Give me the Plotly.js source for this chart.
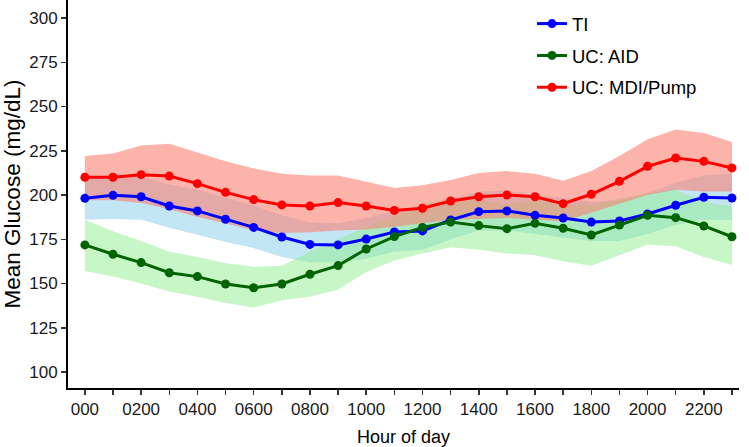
<!DOCTYPE html>
<html>
<head>
<meta charset="utf-8">
<script src="https://cdn.plot.ly/plotly-3.0.1.min.js"></script>
<style>html,body{margin:0;padding:0;background:#fff;}#chart{width:749px;height:447px;}</style>
</head>
<body>
<div id="chart"></div>
<script>
const hours = [0,1,2,3,4,5,6,7,8,9,10,11,12,13,14,15,16,17,18,19,20,21,22,23];
const hourLabels = ['000','','0200','','0400','','0600','','0800','','1000','','1200','','1400','','1600','','1800','','2000','','2200',''];
const yTicks = [100,125,150,175,200,225,250,275,300];

const tiMean  = [198.1,199.8,199.0,193.8,191.0,186.3,181.7,176.3,172.1,171.8,175.1,179.1,179.7,185.9,190.6,191.0,188.5,187.0,184.7,185.3,189.3,194.2,198.7,198.3];
const tiUpper = [210,211,210.5,206,203,198.5,194,188.5,184.5,184,187,191,191.5,197.5,202,202.5,200,198.5,196,197,201,207,211,212];
const tiLower = [186,186.5,186,181.5,177.5,173.5,170,165,162,162,164,168,169,175,180,180,178,176,174,174,178,183,186,186];

const aidMean  = [171.8,166.5,161.8,156.1,153.9,149.7,147.6,149.7,155.2,160.1,169.5,176.5,181.7,184.7,182.7,181.0,184.0,181.2,177.4,183.0,188.5,187.2,182.5,176.4];
const aidUpper = [186,179.5,174,168,165,161.5,159.5,160,168,175,182,188,195,198,197,195,197,195,194,198,201,203,196,193.5];
const aidLower = [157,154,150,145.5,142.5,139,136.5,140.5,142.5,146.5,156.5,163,167,170.5,169,167,166,162.5,160,166,172,171,165,160.5];

const mdiMean  = [210,210,211.5,210.7,206.4,201.5,197.4,194.4,193.8,195.7,193.8,191.3,192.5,196.6,199,200,199,195.1,200.4,207.7,216.2,220.9,219,215.3];
const mdiUpper = [222,223.5,228,229,224,219,215,212,211,211,207.5,204,205.5,208.5,212.5,213.5,212,208,213.5,222,231.5,237,235,230];
const mdiLower = [197,197,195.5,192,187.5,184,180,178.5,179,180,180.5,182,184,186,186.5,187,186,185,190,195,200,203,202,202];

function band(upper, lower, color) {
  return {
    x: hours.concat(hours.slice().reverse()),
    y: upper.concat(lower.slice().reverse()),
    type: 'scatter', mode: 'lines', fill: 'toself',
    fillcolor: color, line: {width: 0, color: 'rgba(0,0,0,0)'},
    hoverinfo: 'skip', showlegend: false
  };
}
function line(y, color, name, legend) {
  return {
    x: hours, y: y, type: 'scatter', mode: 'lines+markers', name: name,
    line: {color: color, width: 3}, marker: {color: color, size: 9},
    legend: legend
  };
}

const data = [
  band(tiUpper, tiLower, 'rgba(135,206,235,0.5)'),
  band(aidUpper, aidLower, 'rgba(144,238,144,0.5)'),
  band(mdiUpper, mdiLower, 'rgba(250,128,114,0.6)'),
  line(tiMean, '#0000FF', 'TI', 'legend'),
  line(aidMean, '#006400', 'UC: AID', 'legend2'),
  line(mdiMean, '#FF0000', 'UC: MDI/Pump', 'legend3')
];

const legBase = {xanchor: 'left', yanchor: 'middle', bgcolor: 'rgba(0,0,0,0)', font: {size: 18.5, color: '#000'}, borderwidth: 0};
const layout = {
  width: 749, height: 447,
  margin: {l: 68, r: 10, t: 0, b: 59},
  paper_bgcolor: '#fff', plot_bgcolor: '#fff',
  font: {family: '"Liberation Sans", Arial, sans-serif', color: '#000'},
  xaxis: {
    range: [-0.6, 23.25], tickmode: 'array', tickvals: hours, ticktext: hourLabels,
    ticks: 'outside', ticklen: 5, tickwidth: 1.5, tickcolor: '#333',
    showline: true, linecolor: '#000', linewidth: 2, showgrid: false, zeroline: false,
    tickfont: {size: 17, color: '#1a1a1a'},
    title: {text: 'Hour of day', font: {size: 18}, standoff: 12}
  },
  yaxis: {
    range: [90.96, 310.17], tickmode: 'array', tickvals: yTicks,
    ticks: 'outside', ticklen: 5, tickwidth: 1.5, tickcolor: '#333',
    showline: true, linecolor: '#000', linewidth: 2, showgrid: false, zeroline: false,
    tickfont: {size: 17, color: '#1a1a1a'},
    title: {text: 'Mean Glucose (mg/dL)', font: {size: 22.5}, standoff: 4}
  },
  legend: Object.assign({x: 0.6915, y: 0.938}, legBase),
  legend2: Object.assign({x: 0.6915, y: 0.856}, legBase),
  legend3: Object.assign({x: 0.6915, y: 0.774}, legBase),
  showlegend: true
};

Plotly.newPlot('chart', data, layout, {displayModeBar: false, staticPlot: true});
</script>
</body>
</html>
